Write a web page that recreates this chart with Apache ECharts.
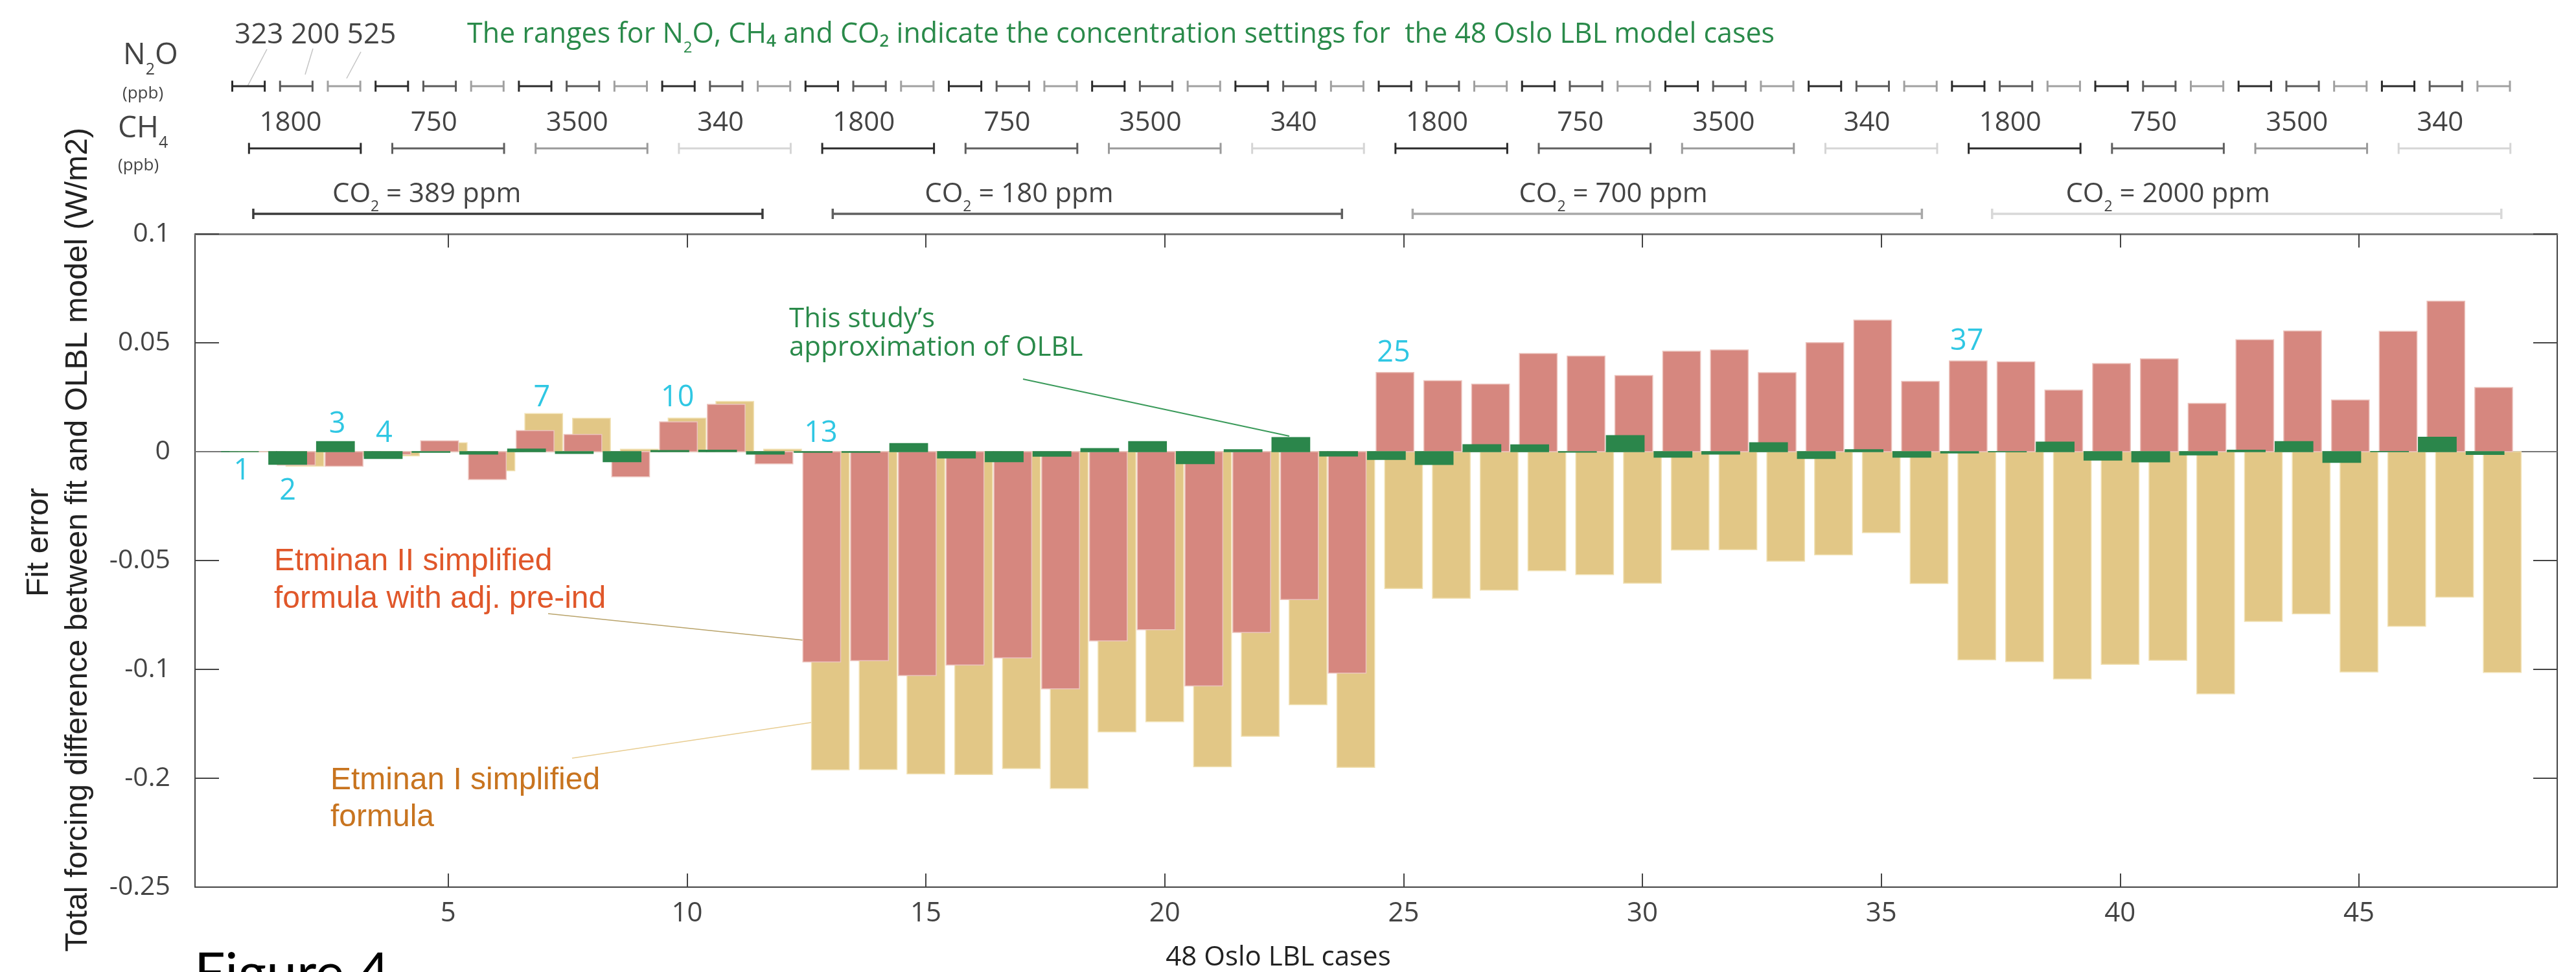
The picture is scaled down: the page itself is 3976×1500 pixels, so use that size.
<!DOCTYPE html>
<html>
<head>
<meta charset="utf-8">
<title>Figure 4</title>
<script src="https://cdn.jsdelivr.net/npm/echarts@6.0.0/dist/echarts.min.js"></script>
<style>
    html, body { margin: 0; padding: 0; background: #ffffff; }
    #chart { width: 3976px; height: 1500px; }
</style>
</head>
<body>
<div id="chart"></div>
<script>
// 48 Oslo LBL cases
var cases = [1, 2, 3, 4, 5, 6, 7, 8, 9, 10, 11, 12,
             13, 14, 15, 16, 17, 18, 19, 20, 21, 22, 23, 24,
             25, 26, 27, 28, 29, 30, 31, 32, 33, 34, 35, 36,
             37, 38, 39, 40, 41, 42, 43, 44, 45, 46, 47, 48];

// fit error (W/m2)
var thisStudy = [0, -0.0058, 0.0046, -0.0031, -0.0003, -0.0011, 0.0012, -0.0008, -0.0046, 0.0005, 0.0007, -0.0011,
                 -0.0003, -0.0003, 0.0037, -0.0029, -0.0046, -0.0021, 0.0014, 0.0046, -0.0055, 0.0009, 0.0065, -0.0020,
                 -0.0036, -0.0059, 0.0032, 0.0031, -0.0002, 0.0074, -0.0025, -0.0011, 0.0041, -0.0031, 0.0009, -0.0025,
                 -0.0006, -0.0001, 0.0044, -0.0039, -0.0047, -0.0015, 0.0007, 0.0046, -0.0049, 0.0001, 0.0066, -0.0013];
var etminanII = [0, -0.0062, -0.0067, -0.0013, 0.0050, -0.0128, 0.0097, 0.0079, -0.0115, 0.0137, 0.0217, -0.0056,
                 -0.0966, -0.0960, -0.1028, -0.0980, -0.0947, -0.1089, -0.0869, -0.0818, -0.1076, -0.0830, -0.0679, -0.1017,
                 0.0364, 0.0326, 0.0310, 0.0451, 0.0439, 0.0350, 0.0461, 0.0467, 0.0363, 0.0501, 0.0604, 0.0323,
                 0.0417, 0.0413, 0.0283, 0.0405, 0.0426, 0.0222, 0.0514, 0.0554, 0.0237, 0.0553, 0.0691, 0.0295];
var etminanI = [0, -0.0067, -0.0020, -0.0019, 0.0041, -0.0088, 0.0175, 0.0153, 0.0011, 0.0154, 0.0231, 0.0011,
                -0.1461, -0.1460, -0.1480, -0.1483, -0.1455, -0.1547, -0.1287, -0.1240, -0.1447, -0.1307, -0.1162, -0.1450,
                -0.0629, -0.0673, -0.0636, -0.0547, -0.0565, -0.0604, -0.0452, -0.0450, -0.0503, -0.0474, -0.0372, -0.0606,
                -0.0956, -0.0964, -0.1044, -0.0977, -0.0958, -0.1112, -0.0780, -0.0745, -0.1012, -0.0802, -0.0668, -0.1014];

// tick labels as printed on the figure
var yTickValues = [-0.2, -0.15, -0.1, -0.05, 0, 0.05, 0.1];
var yTickLabels = ['-0.25', '-0.2', '-0.1', '-0.05', '0', '0.05', '0.1'];
var xTickValues = [5, 10, 15, 20, 25, 30, 35, 40, 45];

// concentration settings
var n2oLabels = ['323', '200', '525'];
var ch4Labels = ['1800', '750', '3500', '340'];
var co2Labels = ['389', '180', '700', '2000'];
// where the CO2 brackets and their captions sit along the case axis
var co2Center = [6.25, 18.38, 30.52, 42.65];
var co2LabelAt = [4.55, 16.95, 29.39, 41.0];

// cyan case numbers
var markedText = ['1', '2', '3', '4', '7', '10', '13', '25', '37'];
var markedX = [0.68, 1.64, 2.68, 3.66, 6.96, 9.80, 12.80, 24.79, 36.79];
var markedY = [-0.0089, -0.0182, 0.0125, 0.0083, 0.0247, 0.0247, 0.0083, 0.0452, 0.0506];

var SANS = "'Open Sans', 'Noto Sans', 'DejaVu Sans', sans-serif";
var ARIAL = "'Liberation Sans', Arial, sans-serif";
var FIG = "Lato, 'Open Sans', sans-serif";

var BAR_W = 0.79;
var X_MIN = -0.3, X_MAX = 49.15;

// rows of the header panel (pixels from the top)
var ROW_N2O = 133, ROW_CH4_LABEL = 190, ROW_CH4 = 229, ROW_CO2_LABEL = 300, ROW_CO2 = 330;
var N2O_COLORS = ['#2a2a2a', '#5a5a5a', '#a0a0a0'];
var CH4_COLORS = ['#2a2a2a', '#5f5f5f', '#9a9a9a', '#d5d5d5'];
var CO2_COLORS = ['#3a3a3a', '#5f5f5f', '#a8a8a8', '#d8d8d8'];

var chart = echarts.init(document.getElementById('chart'), null, {renderer: 'canvas'});

var mctx = document.createElement('canvas').getContext('2d');
function textW(str, size, family) {
    mctx.font = size + 'px ' + family;
    return mctx.measureText(str).width;
}

function txt(str, x, y, size, color, family, align, extra) {
    var el = {
        type: 'text', x: x, y: y, silent: true,
        style: {
            text: str, font: size + 'px ' + family, fill: color,
            align: align, textAlign: align, verticalAlign: 'middle', textVerticalAlign: 'middle'
        }
    };
    if (extra) {
        for (var k in extra) el.style[k] = extra[k];
    }
    return el;
}

// text with lowered subscripts: parts = [[string, isSub], ...]
function subText(parts, x, y, size, color, family, align) {
    var subSize = Math.round(size * 0.55);
    var widths = parts.map(function (p) { return textW(p[0], p[1] ? subSize : size, family); });
    var total = widths.reduce(function (s, w) { return s + w; }, 0);
    var cx = align === 'center' ? x - total / 2 : x;
    var out = [];
    parts.forEach(function (p, i) {
        var sz = p[1] ? subSize : size;
        var yy = p[1] ? y + 0.3 * size + 0.33 * size - 0.3 * sz : y;
        out.push(txt(p[0], cx, yy, sz, color, family, 'left'));
        cx += widths[i];
    });
    return out;
}

function line(x1, y1, x2, y2, color, w) {
    return {type: 'line', silent: true, shape: {x1: x1, y1: y1, x2: x2, y2: y2}, style: {stroke: color, lineWidth: w}};
}

function barRender(offset, fill, edge) {
    return function (params, api) {
        var x = api.value(0) + offset;
        var v = api.value(1);
        var p0 = api.coord([x - BAR_W / 2, 0]);
        var p1 = api.coord([x + BAR_W / 2, v]);
        return {
            type: 'rect',
            shape: {x: p0[0], y: Math.min(p0[1], p1[1]), width: p1[0] - p0[0], height: Math.abs(p1[1] - p0[1])},
            style: {fill: fill, stroke: edge, lineWidth: 1.5}
        };
    };
}

function rangeBar(a, b, half, color, w) {
    return [
        line(a[0], a[1], b[0], b[1], color, w),
        line(a[0], a[1] - half, a[0], a[1] + half, color, w),
        line(b[0], b[1] - half, b[0], b[1] + half, color, w)
    ];
}

function n2oRender(params, api) {
    var c = api.value(0) - 0.18, lvl = api.value(1);
    var a = api.coord([c - 0.34, ROW_N2O]);
    var b = api.coord([c + 0.34, ROW_N2O]);
    return {type: 'group', children: rangeBar(a, b, 8.5, N2O_COLORS[lvl], 3)};
}

function ch4Render(params, api) {
    var c = api.value(0), lvl = api.value(1);
    var a = api.coord([c - 1.17, ROW_CH4]);
    var b = api.coord([c + 1.17, ROW_CH4]);
    var l = api.coord([c - 0.3, ROW_CH4_LABEL]);
    var kids = rangeBar(a, b, 8.5, CH4_COLORS[lvl], 3);
    kids.push(txt(ch4Labels[lvl], l[0], l[1], 42, '#444', SANS, 'center'));
    return {type: 'group', children: kids};
}

function co2Render(params, api) {
    var c = api.value(0), k = api.value(1);
    var a = api.coord([c - 5.33, ROW_CO2]);
    var b = api.coord([c + 5.33, ROW_CO2]);
    var l = api.coord([co2LabelAt[k], ROW_CO2_LABEL]);
    var kids = rangeBar(a, b, 8, CO2_COLORS[k], 3.5);
    kids = kids.concat(subText([['CO', 0], ['2', 1], [' = ' + co2Labels[k] + ' ppm', 0]], l[0], l[1], 42, '#444', SANS, 'center'));
    return {type: 'group', children: kids};
}

function markRender(params, api) {
    var p = api.coord([api.value(0), api.value(1)]);
    return txt(markedText[api.value(2)], p[0], p[1], 45, '#2fc7e3', SANS, 'center');
}

var tanData = cases.map(function (c, i) { return [c, etminanI[i]]; });
var redData = cases.map(function (c, i) { return [c, etminanII[i]]; });
var greenData = cases.map(function (c, i) { return [c, thisStudy[i]]; });
var n2oData = cases.map(function (c, i) { return [c, i % 3]; });
var ch4Data = [];
for (var g = 0; g < cases.length / 3; g++) ch4Data.push([cases[3 * g + 1], g % 4]);
var co2Data = co2Center.map(function (c, k) { return [c, k]; });
var markData = markedX.map(function (x, i) { return [x, markedY[i], i]; });

// annotation graphics
var gfx = [];
gfx = gfx.concat(subText([['N', 0], ['2', 1], ['O', 0]], 190, 86, 46, '#444', SANS, 'left'));
gfx.push(txt('(ppb)', 189, 145, 26, '#444', SANS, 'left'));
gfx = gfx.concat(subText([['CH', 0], ['4', 1]], 182, 199, 46, '#444', SANS, 'left'));
gfx.push(txt('(ppb)', 182, 256, 26, '#444', SANS, 'left'));
gfx.push(txt(n2oLabels.join(' '), 362, 54, 44, '#444', SANS, 'left'));
gfx.push(line(412, 76, 382, 133, '#c4c4c4', 1.5));
gfx.push(line(483, 75, 471, 115, '#c4c4c4', 1.5));
gfx.push(line(557, 80, 535, 121, '#c4c4c4', 1.5));
gfx = gfx.concat(subText([
    ['The ranges for N', 0], ['2', 1],
    ['O, CH\u2084 and CO\u2082 indicate the concentration settings for  the 48 Oslo LBL model cases', 0]
], 721, 54, 43, '#2a8a4a', SANS, 'left'));

gfx.push({type: 'text', x: 61, y: 837, rotation: Math.PI / 2, silent: true,
    style: {text: 'Fit error', font: '48px ' + ARIAL, fill: '#222', align: 'center', textAlign: 'center',
            verticalAlign: 'middle', textVerticalAlign: 'middle'}});
gfx.push({type: 'text', x: 121, y: 833, rotation: Math.PI / 2, silent: true,
    style: {text: 'Total forcing difference between fit and OLBL model (W/m2)', font: '48px ' + ARIAL, fill: '#222',
            align: 'center', textAlign: 'center', verticalAlign: 'middle', textVerticalAlign: 'middle'}});
gfx.push(txt('48 Oslo LBL cases', 1973, 1478, 42, '#222', SANS, 'center'));
gfx.push(txt('Figure 4', 300, 1503, 84, '#000', FIG, 'left'));

gfx.push(txt('This study\u2019s\napproximation of OLBL', 1218, 515, 42, '#2a8a4a', SANS, 'left', {lineHeight: 44}));
gfx.push(line(1579, 585, 1990, 673, '#3a9a5a', 2));
gfx.push(txt('Etminan II simplified\nformula with adj. pre-ind', 423, 896, 48, '#e0572a', ARIAL, 'left', {lineHeight: 58}));
gfx.push(line(846, 947, 1269, 991, '#b9a36a', 1.5));
gfx.push(txt('Etminan I simplified\nformula', 510, 1233, 48, '#c8741f', ARIAL, 'left', {lineHeight: 57}));
gfx.push(line(883, 1170, 1252, 1115, '#e8cd92', 1.5));

var axisGray = '#444';

var option = {
    animation: false,
    backgroundColor: '#ffffff',
    grid: [
        {left: 301, top: 361, width: 3646, height: 1008, containLabel: false, outerBoundsMode: 'none'},
        {left: 301, top: 0, width: 3646, height: 361, containLabel: false, outerBoundsMode: 'none'}
    ],
    xAxis: [
        {
            gridIndex: 0, type: 'value', position: 'bottom', min: X_MIN, max: X_MAX,
            axisLine: {show: true, onZero: false, lineStyle: {color: axisGray, width: 2}},
            axisTick: {show: true, inside: true, length: 21, customValues: xTickValues, lineStyle: {color: axisGray, width: 2}},
            axisLabel: {show: true, customValues: xTickValues, fontFamily: SANS, fontSize: 42, color: '#444', margin: 20, lineHeight: 42},
            splitLine: {show: false}
        },
        {
            gridIndex: 0, type: 'value', position: 'top', min: X_MIN, max: X_MAX,
            axisLine: {show: true, onZero: false, lineStyle: {color: '#777', width: 3}},
            axisTick: {show: true, inside: true, length: 21, customValues: xTickValues, lineStyle: {color: axisGray, width: 2}},
            axisLabel: {show: false},
            splitLine: {show: false}
        },
        {gridIndex: 1, type: 'value', min: X_MIN, max: X_MAX, show: false}
    ],
    yAxis: [
        {
            gridIndex: 0, type: 'value', position: 'left', min: -0.2, max: 0.1, interval: 0.05,
            axisLine: {show: true, onZero: false, lineStyle: {color: axisGray, width: 2}},
            axisTick: {show: true, inside: true, length: 37, lineStyle: {color: axisGray, width: 2}},
            axisLabel: {
                show: true, fontFamily: SANS, fontSize: 41, color: '#444', margin: 38,
                formatter: function (v) {
                    for (var i = 0; i < yTickValues.length; i++) {
                        if (Math.abs(v - yTickValues[i]) < 1e-6) return yTickLabels[i];
                    }
                    return '';
                }
            },
            splitLine: {show: false}
        },
        {
            gridIndex: 0, type: 'value', position: 'right', min: -0.2, max: 0.1, interval: 0.05,
            axisLine: {show: true, onZero: false, lineStyle: {color: axisGray, width: 2}},
            axisTick: {show: true, inside: true, length: 37, lineStyle: {color: axisGray, width: 2}},
            axisLabel: {show: false},
            splitLine: {show: false}
        },
        {gridIndex: 1, type: 'value', min: 0, max: 361, inverse: true, show: false}
    ],
    series: [
        {
            type: 'custom', name: 'Etminan I simplified formula', xAxisIndex: 0, yAxisIndex: 0, z: 2, clip: true,
            renderItem: barRender(0, '#e2c786', '#f1e1b4'), data: tanData, encode: {x: 0, y: 1},
            markLine: {
                silent: true, symbol: ['none', 'none'], label: {show: false}, z: 1,
                lineStyle: {color: '#777', width: 2, type: 'solid'}, data: [{yAxis: 0}]
            }
        },
        {
            type: 'custom', name: 'Etminan II simplified formula with adj. pre-ind', xAxisIndex: 0, yAxisIndex: 0, z: 3, clip: true,
            renderItem: barRender(-0.18, '#d6877f', '#ecc3bd'), data: redData, encode: {x: 0, y: 1}
        },
        {
            type: 'custom', name: 'This study\u2019s approximation of OLBL', xAxisIndex: 0, yAxisIndex: 0, z: 4, clip: true,
            renderItem: barRender(-0.36, '#2b864b', '#2b864b'), data: greenData, encode: {x: 0, y: 1}
        },
        {
            type: 'custom', name: 'case numbers', xAxisIndex: 0, yAxisIndex: 0, z: 6, silent: true,
            renderItem: markRender, data: markData, encode: {x: 0, y: 1}
        },
        {
            type: 'custom', name: 'N2O', xAxisIndex: 2, yAxisIndex: 2, silent: true,
            renderItem: n2oRender, data: n2oData, encode: {x: 0}
        },
        {
            type: 'custom', name: 'CH4', xAxisIndex: 2, yAxisIndex: 2, silent: true,
            renderItem: ch4Render, data: ch4Data, encode: {x: 0}
        },
        {
            type: 'custom', name: 'CO2', xAxisIndex: 2, yAxisIndex: 2, silent: true,
            renderItem: co2Render, data: co2Data, encode: {x: 0}
        }
    ],
    graphic: {elements: gfx}
};

chart.setOption(option);
window.onresize = function () {
    chart.resize();
};
</script>
</body>
</html>
